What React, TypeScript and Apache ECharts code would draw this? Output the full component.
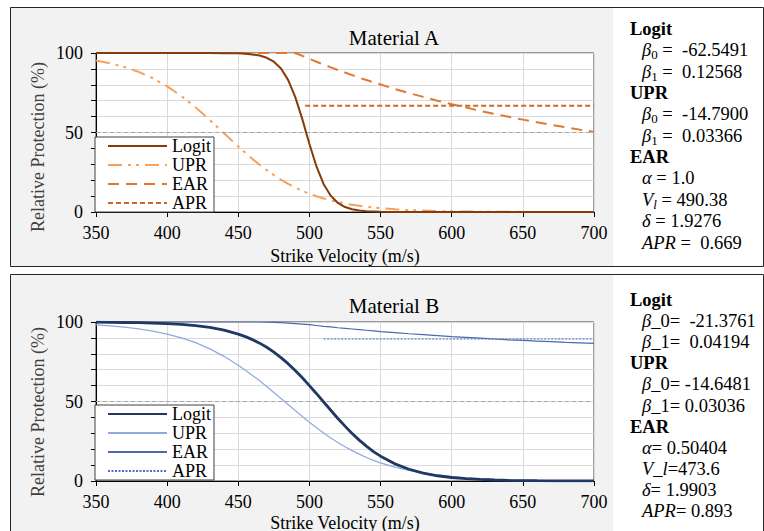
import React, { useEffect, useRef } from 'react';
import * as echarts from 'echarts';

const FONT = '"Liberation Serif", "Times New Roman", serif';

// Strike velocity sample points (m/s)
const V = [350, 360, 370, 380, 390, 400, 410, 420, 430, 440,
  450, 455, 460, 465, 470, 475, 480, 485, 490, 495, 500, 505, 510, 515, 520, 525, 530, 535, 540, 545, 550,
  560, 570, 580, 590, 600, 610, 620, 630, 640, 650, 660, 670, 680, 690, 700];

// Material A (%)
const logitA = [100, 100, 100, 100, 100, 100, 100, 100, 100, 99.9,
  99.8, 99.5, 99.1, 98.4, 97.0, 94.5, 90.2, 83.1, 72.4, 58.4, 42.8, 28.5, 17.5, 10.2, 5.7, 3.1, 1.7, 0.9, 0.5, 0.3, 0.1,
  0.05, 0, 0, 0, 0, 0, 0, 0, 0, 0, 0, 0, 0, 0, 0];
const uprA = [95.3, 93.5, 91.2, 88.1, 84.1, 79.0, 72.9, 65.8, 57.8, 49.5,
  41.2, 37.2, 33.3, 29.7, 26.3, 23.2, 20.3, 17.7, 15.4, 13.3, 11.5, 9.9, 8.5, 7.3, 6.2, 5.3, 4.5, 3.9, 3.3, 2.8, 2.4,
  1.7, 1.2, 0.9, 0.6, 0.45, 0.3, 0.2, 0.15, 0.1, 0.08, 0.05, 0.04, 0.03, 0.02, 0.01];
const earA = [100, 100, 100, 100, 100, 100, 100, 100, 100, 100,
  100, 100, 100, 100, 100, 100, 100, 100, 100, 98.2, 96.3, 94.5, 92.7, 91.0, 89.3, 87.7, 86.1, 84.5, 83.0, 81.6, 80.2,
  77.4, 74.8, 72.4, 70.0, 67.8, 65.7, 63.6, 61.7, 59.9, 58.1, 56.4, 54.8, 53.3, 51.8, 50.4];
const aprAX = [497, 700];
const aprA = [66.9, 66.9];

// Material B (%)
const logitB = [99.9, 99.8, 99.7, 99.6, 99.3, 99.0, 98.5, 97.7, 96.6, 94.9,
  92.4, 90.8, 88.9, 86.7, 84.1, 81.1, 77.6, 73.8, 69.5, 64.9, 60.0, 54.9, 49.7, 44.5, 39.3, 34.5, 29.9, 25.7, 21.9, 18.5, 15.6,
  10.8, 7.4, 5.0, 3.3, 2.2, 1.5, 1.0, 0.64, 0.42, 0.28, 0.18, 0.12, 0.08, 0.05, 0.03];
const uprB = [98.2, 97.6, 96.8, 95.7, 94.3, 92.4, 90.0, 87.0, 83.1, 78.4,
  72.8, 69.7, 66.4, 63.0, 59.4, 55.7, 51.9, 48.1, 44.3, 40.6, 37.0, 33.5, 30.2, 27.1, 24.2, 21.6, 19.1, 16.9, 14.8, 13.0, 11.4,
  8.7, 6.6, 4.9, 3.7, 2.7, 2.0, 1.5, 1.1, 0.8, 0.6, 0.45, 0.33, 0.25, 0.18, 0.14];
const earB = [100, 100, 100, 100, 100, 100, 100, 100, 100, 100,
  100, 100, 100, 100, 99.9, 99.8, 99.6, 99.3, 99.0, 98.7, 98.3, 97.8, 97.3, 96.9, 96.4, 96.0, 95.6, 95.2, 94.8, 94.4, 94.0,
  93.3, 92.6, 92.0, 91.4, 90.8, 90.3, 89.8, 89.3, 88.8, 88.4, 88.0, 87.6, 87.2, 86.9, 86.6];
const aprBX = [510, 700];
const aprB = [89.3, 89.3];

const legendNames = ['Logit', 'UPR', 'EAR', 'APR'];
const titles = ['Material A', 'Material B'];
const xTitle = 'Strike Velocity (m/s)';
const yTitle = 'Relative Protection (%)';

const paramLinesA = [
  '{h|Logit}',
  '{i|β}{s|0}{n| =  -62.5491}',
  '{i|β}{s|1}{n| =  0.12568}',
  '{h|UPR}',
  '{i|β}{s|0}{n| =  -14.7900}',
  '{i|β}{s|1}{n| =  0.03366}',
  '{h|EAR}',
  '{i|α}{n| = 1.0}',
  '{i|V}{si|l}{n| = 490.38}',
  '{i|δ}{n| = 1.9276}',
  '{i|APR}{n| =  0.669}',
];
const paramLinesB = [
  '{h|Logit}',
  '{i|β}{n|_0=  -21.3761}',
  '{i|β}{n|_1=  0.04194}',
  '{h|UPR}',
  '{i|β}{n|_0= -14.6481}',
  '{i|β}{n|_1= 0.03036}',
  '{h|EAR}',
  '{i|α}{n|= 0.50404}',
  '{i|V}{n|_}{i|l}{n|=473.6}',
  '{i|δ}{n|= 1.9903}',
  '{i|APR}{n|= 0.893}',
];

const pts = (xs: number[], ys: number[]) => xs.map((x, i) => [x, ys[i]]);

const rich = {
  h: { fontFamily: FONT, fontSize: 18.5, fontWeight: 'bold', color: '#000', lineHeight: 22 },
  n: { fontFamily: FONT, fontSize: 18.5, color: '#000', lineHeight: 22 },
  i: { fontFamily: FONT, fontSize: 18.5, fontStyle: 'italic', color: '#000', lineHeight: 22 },
  s: { fontFamily: FONT, fontSize: 13, color: '#000', lineHeight: 13, verticalAlign: 'bottom' },
  si: { fontFamily: FONT, fontSize: 13, fontStyle: 'italic', color: '#000', lineHeight: 13, verticalAlign: 'bottom' },
};

function paramTexts(lines: string[], y0: number, step: number) {
  return lines.map((t, k) => ({
    type: 'text',
    x: t.startsWith('{h|') ? 630 : 642,
    y: y0 + k * step,
    z: 10,
    style: { text: t, rich, verticalAlign: 'middle', align: 'left' },
  }));
}

function axisPair(grid: number) {
  const common = {
    gridIndex: grid,
    axisLine: { show: true, lineStyle: { color: '#000', width: 1 } },
    axisTick: { show: true, inside: false, length: 5, lineStyle: { color: '#000' } },
    splitLine: { show: true, lineStyle: { color: '#d9d9d9', width: 1 } },
  };
  return {
    x: {
      ...common, type: 'value', min: 350, max: 700, interval: 50,
      axisLabel: { fontFamily: FONT, fontSize: 18, color: '#000', margin: 12 },
    },
    y: {
      ...common, type: 'value', min: 0, max: 100, interval: 10,
      axisLabel: {
        fontFamily: FONT, fontSize: 18, color: '#000', margin: 13,
        formatter: (v: number) => (v % 50 === 0 ? String(v) : ''),
      },
    },
  };
}

const half = {
  data: [{ yAxis: 50 }], symbol: 'none', silent: true,
  label: { show: false }, lineStyle: { color: '#a6a6a6', type: [4, 3], width: 1 },
};

function line(name: string, grid: number, data: number[][], color: string, width: number, type: any, extra: any = {}) {
  return {
    type: 'line', name, xAxisIndex: grid, yAxisIndex: grid, data,
    showSymbol: false, symbol: 'none', color,
    itemStyle: { color },
    lineStyle: { color, width, type },
    ...extra,
  };
}

const axA = axisPair(0);
const axB = axisPair(1);

const legendBase = {
  orient: 'vertical', left: 95, itemWidth: 59, itemHeight: 14, itemGap: 1,
  padding: [0, 3, 0, 12], backgroundColor: '#fff', borderColor: '#404040', borderWidth: 1,
  textStyle: { fontFamily: FONT, fontSize: 18, color: '#000', lineHeight: 18 },
  itemStyle: { opacity: 0 },
  selectedMode: false,
};

const option = {
  animation: false,
  backgroundColor: 'transparent',
  grid: [
    { left: 96, top: 53, width: 498, height: 159, show: true, backgroundColor: '#fff', borderColor: '#404040', borderWidth: 1 },
    { left: 96, top: 322, width: 498, height: 159, show: true, backgroundColor: '#fff', borderColor: '#404040', borderWidth: 1 },
  ],
  xAxis: [axA.x, axB.x],
  yAxis: [axA.y, axB.y],
  legend: [
    { ...legendBase, top: 137, data: legendNames },
    { ...legendBase, top: 405, data: legendNames.map((n) => n + ' (B)'), formatter: (n: string) => n.replace(' (B)', '') },
  ],
  series: [
    line('Logit', 0, pts(V, logitA), '#843c0c', 2, 'solid', { z: 5, markLine: half }),
    line('UPR', 0, pts(V, uprA), '#f4a15d', 2, [14, 6, 3, 5, 3, 6]),
    line('EAR', 0, pts(V, earA), '#e2782f', 2, [11, 7]),
    line('APR', 0, pts(aprAX, aprA), '#cf6a22', 2, [5, 3]),
    line('Logit (B)', 1, pts(V, logitB), '#203864', 2.8, 'solid', { z: 5, markLine: half }),
    line('UPR (B)', 1, pts(V, uprB), '#8faadc', 1.2, 'solid'),
    line('EAR (B)', 1, pts(V, earB), '#4a6aab', 1.2, 'solid'),
    line('APR (B)', 1, pts(aprBX, aprB), '#4472c4', 1, [2, 1.5]),
  ],
  graphic: [
    { type: 'rect', z: -10, shape: { x: 10.5, y: 7.5, width: 603, height: 259 }, style: { fill: '#f2f2f2' } },
    { type: 'rect', z: -10, shape: { x: 613, y: 7.5, width: 150, height: 259 }, style: { fill: '#fff' } },
    { type: 'rect', z: -9, shape: { x: 10.5, y: 7.5, width: 753, height: 259 }, style: { fill: 'none', stroke: '#262626', lineWidth: 1 } },
    { type: 'rect', z: -10, shape: { x: 10.5, y: 274.5, width: 603, height: 270 }, style: { fill: '#f2f2f2' } },
    { type: 'rect', z: -10, shape: { x: 613, y: 274.5, width: 150, height: 270 }, style: { fill: '#fff' } },
    { type: 'rect', z: -9, shape: { x: 10.5, y: 274.5, width: 753, height: 270 }, style: { fill: 'none', stroke: '#262626', lineWidth: 1 } },
    { type: 'text', x: 394, y: 38, z: 10, style: { text: titles[0], fontFamily: FONT, fontSize: 21, fill: '#000', align: 'center', verticalAlign: 'middle' } },
    { type: 'text', x: 394, y: 306, z: 10, style: { text: titles[1], fontFamily: FONT, fontSize: 21, fill: '#000', align: 'center', verticalAlign: 'middle' } },
    { type: 'text', x: 38, y: 147, rotation: Math.PI / 2, z: 10, style: { text: yTitle, fontFamily: FONT, fontSize: 18, fill: '#404040', align: 'center', verticalAlign: 'middle' } },
    { type: 'text', x: 38, y: 412, rotation: Math.PI / 2, z: 10, style: { text: yTitle, fontFamily: FONT, fontSize: 18, fill: '#404040', align: 'center', verticalAlign: 'middle' } },
    { type: 'text', x: 345, y: 256, z: 10, style: { text: xTitle, fontFamily: FONT, fontSize: 18, fill: '#000', align: 'center', verticalAlign: 'middle' } },
    { type: 'text', x: 345, y: 523, z: 10, style: { text: xTitle, fontFamily: FONT, fontSize: 18, fill: '#000', align: 'center', verticalAlign: 'middle' } },
    ...paramTexts(paramLinesA, 29, 21.35),
    ...paramTexts(paramLinesB, 300, 21.1),
  ],
};

export default function App() {
  const ref = useRef<HTMLDivElement>(null);
  useEffect(() => {
    const chart = echarts.init(ref.current as HTMLDivElement, null, { renderer: 'svg' });
    chart.setOption(option as any);
    return () => chart.dispose();
  }, []);
  return <div ref={ref} style={{ position: 'absolute', left: 0, top: 0, width: 764, height: 531 }} />;
}
